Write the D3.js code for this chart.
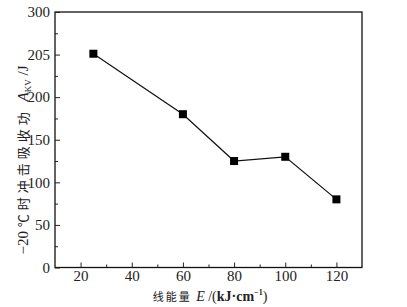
<!DOCTYPE html>
<html>
<head>
<meta charset="utf-8">
<script src="https://cdn.jsdelivr.net/npm/d3@7"></script>
<style>
body { margin: 0; background: #fff; }
svg text { font-family: "Liberation Serif", "DejaVu Serif", serif; fill: #222; }
svg tspan.cjk { font-family: "Noto Sans CJK SC", sans-serif; }
</style>
</head>
<body>
<script>
var energy = [25, 60, 80, 100, 120];
var impact = [251, 180, 125, 130, 80];
var xTicks = [20, 40, 60, 80, 100, 120];
var yTicks = [0, 50, 100, 150, 200, 250, 300];
var yTickLabels = ["0", "50", "100", "150", "200", "205", "300"];

var width = 407, height = 307;
var padding = { top: 12, right: 45, bottom: 40, left: 55 };

var svg = d3.select("body").append("svg")
    .attr("width", width)
    .attr("height", height);

var xScale = d3.scaleLinear()
    .domain([10, 130])
    .range([padding.left, width - padding.right]);
var yScale = d3.scaleLinear()
    .domain([0, 300])
    .range([height - padding.bottom + 0.5, padding.top]);

// frame
svg.append("rect")
    .attr("x", padding.left)
    .attr("y", padding.top)
    .attr("width", width - padding.left - padding.right)
    .attr("height", height - padding.top - padding.bottom + 0.5)
    .attr("fill", "none")
    .attr("stroke", "#111")
    .attr("stroke-width", 1.3);

// ticks inward
var xAxis = d3.axisBottom(xScale).tickValues(xTicks).tickSizeInner(-5).tickSizeOuter(0).tickPadding(3);
var xMinor = d3.axisBottom(xScale).tickValues([30, 50, 70, 90, 110]).tickSizeInner(-3).tickSizeOuter(0).tickFormat("");
svg.append("g")
    .attr("transform", "translate(0," + yScale(0) + ")")
    .call(xAxis);
svg.append("g")
    .attr("transform", "translate(0," + yScale(0) + ")")
    .call(xMinor);

var yAxis = d3.axisLeft(yScale).tickValues(yTicks).tickSizeInner(-5).tickSizeOuter(0).tickPadding(5)
    .tickFormat(function(d, i) { return yTickLabels[i]; });
var yMinor = d3.axisLeft(yScale).tickValues([25, 75, 125, 175, 225, 275]).tickSizeInner(-3).tickSizeOuter(0).tickFormat("");
svg.append("g")
    .attr("transform", "translate(" + padding.left + ",0)")
    .call(yAxis);
svg.append("g")
    .attr("transform", "translate(" + padding.left + ",0)")
    .call(yMinor);

svg.selectAll(".domain").remove();
svg.selectAll("g").attr("font-family", null);
svg.selectAll(".tick line").attr("stroke", "#222");
svg.selectAll(".tick text")
    .style("font-family", "'Liberation Serif', serif")
    .style("font-size", "15px")
    .attr("fill", "#222");

// line + markers
var pts = energy.map(function(d, i) { return [d, impact[i]]; });
var line = d3.line()
    .x(function(d) { return xScale(d[0]); })
    .y(function(d) { return yScale(d[1]); });
svg.append("path")
    .datum(pts)
    .attr("d", line)
    .attr("fill", "none")
    .attr("stroke", "#111")
    .attr("stroke-width", 1.2);
svg.selectAll(".mk")
    .data(pts)
    .enter()
    .append("rect")
    .attr("class", "mk")
    .attr("x", function(d) { return xScale(d[0]) - 4; })
    .attr("y", function(d) { return yScale(d[1]) - 4; })
    .attr("width", 8)
    .attr("height", 8)
    .attr("fill", "#000");

// x label
var xl = svg.append("text")
    .attr("x", 210)
    .attr("y", 301)
    .attr("text-anchor", "middle")
    .style("font-size", "14px");
xl.append("tspan").attr("class", "cjk").style("font-size", "11px").style("letter-spacing", "2px").text("线能量 ");
xl.append("tspan").style("font-style", "italic").text("E");
xl.append("tspan").text(" /(");
xl.append("tspan").style("font-weight", "bold").text("kJ·cm");
xl.append("tspan").style("font-size", "8px").attr("dy", -6).style("font-weight", "bold").text("−1");
xl.append("tspan").attr("dy", 6).text(")");

// y label
var yl = svg.append("text")
    .attr("transform", "translate(28,160) rotate(-90)")
    .attr("text-anchor", "middle")
    .style("font-size", "15px");
yl.append("tspan").text("−20 ");
yl.append("tspan").attr("class", "cjk").style("font-size", "13px").style("letter-spacing", "4px").text("℃时冲击吸收功 ");
yl.append("tspan").style("font-style", "italic").text("A");
yl.append("tspan").style("font-size", "9px").attr("dy", 3).text("KV");
yl.append("tspan").attr("dy", -3).text(" /J");
</script>
</body>
</html>
